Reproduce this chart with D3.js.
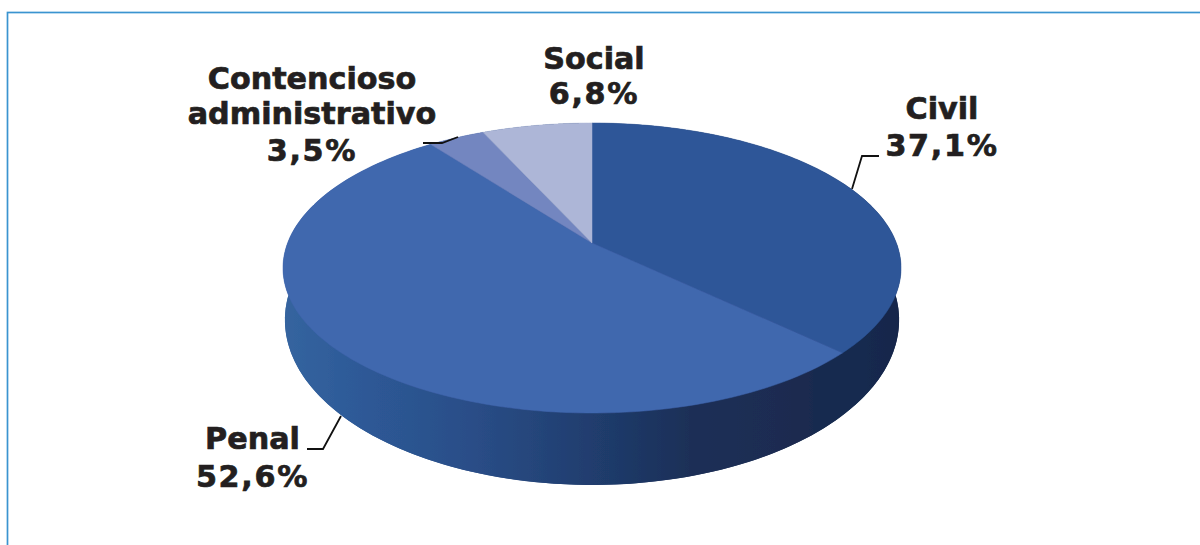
<!DOCTYPE html>
<html><head><meta charset="utf-8">
<style>html,body{margin:0;padding:0;background:#fff}svg{display:block}
text{font-family:"DejaVu Sans",sans-serif;font-weight:700;font-size:30.2px;fill:#231f20;stroke:#231f20;stroke-width:.7px;text-anchor:middle}
text.val{letter-spacing:1.7px}</style>
<script src="https://cdn.jsdelivr.net/npm/d3@7"></script></head><body>
<svg id="c" width="1200" height="545"></svg>
<script>
const categories=["Civil","Penal","Contencioso administrativo","Social"];
const shares=[37.1,52.6,3.5,6.8];
const valueLabels=["37,1%","52,6%","3,5%","6,8%"];
const topColors=["#2f5698","#4167ae","#7386c0","#adb6d7"];
const svg=d3.select("#c");
// frame: its right and bottom sides run past the picture
svg.append("rect").attr("x",7.5).attr("y",12.5).attr("width",1210).attr("height",560).attr("fill","#fff").attr("stroke","#3a94d0").attr("stroke-width",1.7);
const persp=-0.1724;
function proj(rim,a){const u=Math.sin(a),v=-Math.cos(a),d=1+persp*v;
  return [rim.cx+rim.R*u/d,rim.cy+rim.k*v/d];}
const topRim={cx:592,cy:243,R:304.4,k:140.7};
const lowRim={cx:592,cy:291.6,R:302.5,k:160};
const pie=d3.pie().sort(null).value(d=>d);
const arcs=pie(shares);
const line=d3.line();
const steps=(a,b)=>d3.range(0,121).map(i=>a+(b-a)*i/120);
const defs=svg.append("defs");
const g=defs.append("linearGradient").attr("id","wall").attr("gradientUnits","userSpaceOnUse").attr("x1",283).attr("x2",901).attr("y1",0).attr("y2",0);
[[0,"#35659f"],[.1,"#2e5b99"],[.3,"#2a4e88"],[.5,"#203d6e"],[.66,"#1b2f57"],[.85,"#1a2b4f"],[.93,"#122a50"],[1,"#16264a"]].forEach(s=>g.append("stop").attr("offset",s[0]).attr("stop-color",s[1]));
defs.append("filter").attr("id","soft").append("feGaussianBlur").attr("stdDeviation",0.6);
const pieG=svg.append("g").attr("filter","url(#soft)");
pieG.selectAll("path.wall").data(arcs).join("path").attr("class","wall").attr("fill","url(#wall)")
 .attr("d",d=>{const as=steps(d.startAngle,d.endAngle);
   return line(as.map(a=>proj(topRim,a)).concat(as.slice().reverse().map(a=>proj(lowRim,a))))+"Z";});
pieG.append("path").attr("fill","url(#wall)").attr("d",line(steps(0,2*Math.PI).map(a=>proj(lowRim,a)))+"Z");
pieG.selectAll("path.top").data(arcs).join("path").attr("class","top")
 .attr("fill",(d,i)=>topColors[i]).attr("stroke",(d,i)=>topColors[i]).attr("stroke-width",.5)
 .attr("d",d=>line([[topRim.cx,topRim.cy]].concat(steps(d.startAngle,d.endAngle).map(a=>proj(topRim,a))))+"Z");
const leaders=[
 [[852,189],[862,156],[879,156]],
 [[341,416],[323,449],[307,449]],
 [[458,137],[442,143],[423,143]]
];
leaders.forEach(l=>svg.append("path").attr("fill","none").attr("stroke","#111").attr("stroke-width",1.8).attr("d",line(l)));
const labelRows=[
 {i:0,x:942,y:[119,156]},
 {i:1,x:252.5,y:[449,487]},
 {i:2,x:312,y:[89,124,161]},
 {i:3,x:594,y:[69,104]}
];
const nameLines=[["Civil"],["Penal"],["Contencioso","administrativo"],["Social"]];
labelRows.forEach(r=>{const names=nameLines[r.i];
 names.concat(valueLabels[r.i]).forEach((t,j)=>svg.append("text").attr("class",j===names.length?"val":null).attr("x",r.x).attr("y",r.y[j]).text(t));});
</script></body></html>
